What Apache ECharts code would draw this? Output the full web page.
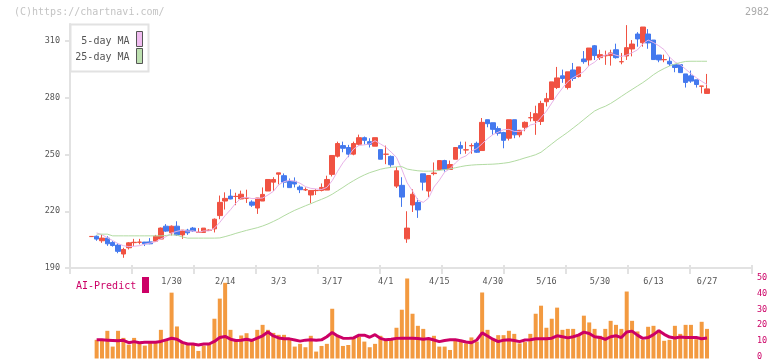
<!DOCTYPE html>
<html><head><meta charset="utf-8">
<script src="https://cdn.jsdelivr.net/npm/echarts@6/dist/echarts.min.js"></script>
<style>html,body{margin:0;padding:0;background:#fff}#c{width:772px;height:361px}</style>
</head><body><div id="c"></div><script>
const dates = ['1/8','1/9','1/10','1/14','1/15','1/16','1/17','1/20','1/21','1/22','1/23','1/24','1/27','1/28','1/29','1/30','1/31',
'2/3','2/4','2/5','2/6','2/7','2/10','2/12','2/13','2/14','2/17','2/18','2/19','2/20','2/21','2/25','2/26','2/27','2/28',
'3/3','3/4','3/5','3/6','3/7','3/10','3/11','3/12','3/13','3/14','3/17','3/18','3/19','3/21','3/24','3/25','3/26','3/27','3/28','3/31',
'4/1','4/2','4/3','4/4','4/7','4/8','4/9','4/10','4/11','4/14','4/15','4/16','4/17','4/18','4/21','4/22','4/23','4/24','4/25','4/28','4/30',
'5/1','5/2','5/7','5/8','5/9','5/12','5/13','5/14','5/15','5/16','5/19','5/20','5/21','5/22','5/23','5/26','5/27','5/28','5/29','5/30',
'6/2','6/3','6/4','6/5','6/6','6/9','6/10','6/11','6/12','6/13','6/16','6/17','6/18','6/19','6/20','6/23','6/24','6/25','6/26','6/27'];
const shownDates = ['1/30','2/14','3/3','3/17','4/1','4/15','4/30','5/16','5/30','6/13','6/27'];
const open = [206.6,206.8,204.4,205.8,203.5,202.1,197.4,200.7,203.4,203.6,203.7,203.8,204.2,205.3,212.1,208.6,212.1,207.5,210.0,211.1,
208.8,208.8,209.9,210.7,217.7,225.4,228.0,227.8,226.5,226.9,224.9,221.7,225.4,230.7,235.4,239.6,238.8,235.8,235.8,232.8,
231.3,228.6,230.9,231.0,231.2,239.5,249.1,254.7,253.7,250.2,255.4,258.9,256.8,254.4,252.6,250.1,249.0,233.3,233.7,205.4,
223.3,224.7,239.8,230.7,239.9,242.1,246.8,242.1,247.5,254.7,252.4,254.6,255.9,252.1,268.4,266.8,263.7,261.6,258.6,268.4,
260.4,264.4,269.4,267.9,267.5,277.9,279.1,285.4,291.6,285.4,294.7,291.2,300.5,300.0,307.5,301.2,302.2,302.3,305.4,299.0,
302.1,305.8,313.7,309.1,313.7,310.5,302.6,300.1,299.3,297.5,297.5,292.6,291.6,289.5,286.1,282.3];
const close = [206.7,205.3,205.8,202.8,201.9,198.8,199.8,203.3,203.6,203.7,202.8,202.8,206.8,211.1,209.5,212.1,207.5,210.0,208.6,209.6,
208.9,211.1,210.0,215.8,224.7,226.8,226.5,227.9,229.0,227.0,223.2,227.0,228.9,236.8,236.8,240.3,235.4,232.5,234.4,231.4,
231.4,231.0,231.0,232.6,236.8,249.5,255.8,253.3,250.2,255.8,258.9,257.5,255.4,258.9,247.5,250.2,244.6,241.4,227.5,211.1,
229.0,220.7,235.4,238.9,240.2,246.8,242.1,244.7,253.7,253.3,252.5,254.7,251.2,267.0,266.3,263.3,261.2,257.5,268.4,260.4,
262.8,267.0,269.5,271.6,277.0,279.5,288.4,290.5,290.2,293.7,290.2,296.3,299.1,306.3,302.3,302.8,302.3,303.7,301.2,299.1,
306.5,308.4,311.1,317.4,309.0,300.2,300.0,300.2,297.9,296.0,293.3,288.1,288.8,287.0,286.2,284.7];
const low = [206.5,204.4,203.3,201.7,201.3,197.8,195.4,199.8,201.6,202.5,201.6,202.6,204.0,205.3,209.1,207.2,207.0,205.4,207.5,209.1,
208.8,208.8,209.6,208.8,215.8,220.9,226.3,223.2,226.3,224.4,222.3,218.6,225.4,230.7,230.7,234.2,232.5,232.5,232.6,229.6,
230.7,224.2,228.6,230.5,231.2,238.4,248.4,251.2,248.6,249.6,254.7,255.3,253.7,254.4,247.5,244.9,243.5,232.3,222.3,203.3,
219.6,216.5,231.0,227.5,239.0,241.6,241.0,242.1,247.5,250.2,250.4,250.4,250.8,252.1,264.4,260.4,260.0,253.3,257.4,258.6,
259.1,262.3,267.5,260.4,265.6,275.4,279.1,284.6,287.9,284.4,288.9,290.7,298.0,297.0,300.0,300.0,297.4,297.0,300.7,297.7,
300.0,301.9,307.0,307.0,305.9,300.2,298.8,298.8,296.8,293.5,293.2,285.4,287.9,285.4,282.3,282.3];
const high = [206.8,207.2,208.0,206.8,204.2,203.2,200.7,203.7,205.4,205.4,203.8,205.8,207.5,211.4,213.2,212.5,214.7,210.0,210.7,211.7,
211.1,211.1,210.4,216.2,228.3,230.0,231.6,229.8,230.9,231.4,225.8,227.0,232.6,236.8,238.0,240.3,240.0,237.3,237.9,233.7,
232.6,231.0,231.7,234.7,238.8,249.5,256.8,256.8,255.1,256.8,260.5,259.5,258.6,258.9,252.6,254.7,249.5,243.3,238.0,220.0,
231.6,226.8,239.8,238.9,245.8,246.8,247.2,246.8,253.7,256.8,256.8,255.9,256.8,269.3,268.4,266.8,264.9,262.0,268.4,268.4,
262.8,267.5,272.5,275.8,278.4,282.6,288.4,296.3,294.9,293.7,298.4,296.3,304.7,306.3,307.9,305.4,304.9,305.4,308.6,303.7,
318.4,310.5,314.7,317.4,316.3,310.5,302.6,302.8,301.6,297.5,297.5,292.6,294.4,289.5,286.2,292.6];
const ma5 = [null,208.6,207.6,206.0,204.5,202.9,201.8,201.3,201.5,201.8,202.6,203.2,203.9,205.4,206.6,208.5,209.4,210.0,209.5,209.6,
208.9,209.6,209.6,211.1,214.1,217.7,220.8,224.3,227.0,227.4,226.7,226.8,227.0,228.6,230.5,234.0,235.6,236.4,235.9,234.8,
233.0,232.1,231.8,231.5,232.6,236.2,241.1,245.6,249.1,252.9,254.8,255.1,255.6,257.3,255.6,253.9,251.3,248.5,242.2,235.0,
230.7,225.9,224.7,227.0,232.8,236.4,240.7,242.5,245.5,248.1,249.3,251.8,253.1,255.7,258.3,260.5,261.8,263.1,263.3,262.2,
262.1,263.2,265.6,266.3,269.6,272.9,277.2,281.4,285.1,288.5,290.6,292.2,293.9,297.1,298.8,301.4,302.6,303.5,302.5,301.8,
302.6,303.8,305.3,308.5,310.5,309.2,307.5,305.4,301.5,298.9,297.5,295.1,292.8,290.6,288.7,287.0];
const ma25 = [null,207.9,207.9,207.9,207.0,207.0,207.0,207.0,207.0,207.0,207.0,207.0,207.0,207.0,207.2,207.5,207.4,206.4,205.8,205.8,
205.8,205.8,205.8,205.8,205.9,206.6,207.4,208.3,209.1,209.9,210.6,211.3,212.2,213.3,214.6,216.0,217.6,219.1,220.5,221.7,
222.9,224.0,225.2,226.3,227.5,229.0,230.8,232.6,234.5,236.2,237.8,239.2,240.4,241.3,242.2,242.8,243.2,243.5,243.6,242.3,
241.8,241.4,241.2,241.2,241.3,241.6,242.0,242.4,243.0,243.6,244.1,244.4,244.6,244.7,244.8,244.9,245.1,245.4,245.8,246.5,
247.3,248.2,249.0,249.9,251.2,253.4,255.6,257.8,259.8,261.8,264.0,266.2,268.5,270.8,273.0,274.4,275.5,277.0,278.8,280.7,
282.6,284.4,286.2,288.0,290.0,292.2,294.0,295.5,296.8,297.8,298.6,299.2,299.3,299.3,299.3,299.3];
const volume = [null,11.6,11.6,17.2,7.4,17.2,12.8,8.6,12.8,10.1,8.0,10.1,10.1,17.8,11.6,40.9,19.9,10.1,8.6,8.6,
4.7,8.0,8.6,24.7,37.2,47.0,17.8,11.6,14.3,15.7,11.6,17.8,20.9,17.8,15.9,14.7,14.7,12.6,7.4,9.1,
7.0,14.1,4.3,7.8,9.1,30.9,14.1,7.8,8.4,12.8,13.5,10.5,7.0,9.1,14.1,11.6,11.6,19.1,30.3,49.7,
27.8,20.3,18.4,11.6,14.1,7.4,7.4,5.3,11.6,10.5,9.4,13.1,10.5,41.0,17.8,11.6,14.5,14.5,17.2,15.3,
9.4,10.2,15.3,27.8,32.8,19.1,24.7,31.6,17.8,18.4,18.4,15.3,26.6,22.4,18.4,14.1,18.4,23.4,20.9,18.4,
41.6,23.4,16.8,11.6,19.7,20.3,17.8,11.0,11.6,20.3,15.3,20.9,20.9,12.0,22.8,18.4];
const aiPredict = [null,11.6,11.6,11.4,11.2,11.0,11.3,9.8,10.5,9.8,10.1,10.1,10.1,10.6,11.6,12.6,12.0,10.0,9.0,9.0,
8.4,9.0,9.0,10.6,13.0,13.7,12.0,11.2,11.3,12.0,11.2,12.6,14.1,16.5,14.0,12.8,12.3,12.2,11.5,10.8,
11.4,11.6,11.4,11.6,13.5,16.2,14.0,12.6,12.5,12.8,14.5,14.5,13.2,14.8,12.5,11.6,12.0,12.5,12.6,12.6,
12.6,12.4,12.0,12.4,11.5,10.5,11.2,11.6,11.6,11.0,10.2,9.8,11.5,15.9,14.0,12.0,10.5,11.4,11.6,11.2,
10.5,11.5,11.6,12.3,12.3,12.2,12.6,14.1,13.5,12.8,13.5,14.5,16.4,15.5,13.5,13.1,11.9,13.5,14.1,13.0,
16.5,17.0,14.5,12.5,13.0,14.8,17.3,15.0,13.3,12.7,13.3,13.1,13.1,13.0,12.3,12.7];
const priceTicks = [190,220,250,280,310];
const ticker = '2982';

const FONT = '"DejaVu Sans Mono","Liberation Mono",monospace';
const AX = '#e2e2e2';
const RED = '#f05242', BLUE = '#4479ee';
const PL = 88.6, PR = 62.3;
const candles = dates.map((d, i) => [open[i], close[i], low[i], high[i]]);

const chart = echarts.init(document.getElementById('c'), null, {renderer: 'canvas'});
chart.setOption({
  animation: false,
  backgroundColor: '#fff',
  grid: [
    {left: 70, right: 20, top: 24, bottom: 93},
    {left: PL, right: PR, top: 24, bottom: 93},
    {left: PL, right: PR, top: 278, bottom: 2.5},
    {left: 70, right: 20, top: 278, bottom: 2.5}
  ],
  xAxis: [
    {type: 'value', gridIndex: 0, min: 0, max: 11, interval: 1, position: 'bottom',
     axisLine: {show: true, lineStyle: {color: AX, width: 2}},
     axisTick: {show: true, length: 6, lineStyle: {color: AX, width: 2}},
     axisLabel: {show: false}, splitLine: {show: false}},
    {type: 'value', gridIndex: 0, min: 0, max: 11, interval: 1, position: 'bottom',
     axisLine: {show: false},
     axisTick: {show: true, inside: true, length: 3, lineStyle: {color: AX, width: 2}},
     axisLabel: {show: false}, splitLine: {show: false}},
    {type: 'category', gridIndex: 1, data: dates, boundaryGap: true, position: 'bottom',
     axisLine: {show: false}, axisTick: {show: false}, splitLine: {show: false},
     axisLabel: {interval: (i, v) => shownDates.indexOf(v) >= 0, margin: 9, fontSize: 8.5, color: '#555', fontFamily: FONT}},
    {type: 'category', gridIndex: 2, data: dates, boundaryGap: true, show: false},
    {type: 'value', gridIndex: 3, min: 0, max: 1, show: false}
  ],
  yAxis: [
    {type: 'value', gridIndex: 0, min: 190, max: 319,
     axisLine: {show: true, lineStyle: {color: AX, width: 2}},
     axisTick: {show: true, length: 5, customValues: priceTicks, lineStyle: {color: AX, width: 2}},
     axisLabel: {customValues: priceTicks, margin: 10, fontSize: 8.5, color: '#555', fontFamily: FONT},
     splitLine: {show: false}},
    {type: 'value', gridIndex: 0, min: 190, max: 319,
     axisLine: {show: false},
     axisTick: {show: true, inside: true, length: 3, customValues: priceTicks, lineStyle: {color: AX, width: 2}},
     axisLabel: {show: false}, splitLine: {show: false}},
    {type: 'value', gridIndex: 1, min: 190, max: 319, show: false},
    {type: 'value', gridIndex: 2, min: 0, max: 50, show: false},
    {type: 'value', gridIndex: 3, min: 0, max: 50, interval: 10, position: 'right',
     axisLine: {show: false}, axisTick: {show: false}, splitLine: {show: false},
     axisLabel: {color: '#cc0066', fontSize: 8.5, margin: 5, fontFamily: FONT}}
  ],
  series: [
    {type: 'candlestick', xAxisIndex: 2, yAxisIndex: 2, data: candles, barWidth: 5,
     itemStyle: {color: RED, color0: BLUE, borderColor: RED, borderColor0: BLUE, borderColorDoji: RED, borderWidth: 1}},
    {type: 'line', name: '5-day MA', xAxisIndex: 2, yAxisIndex: 2, data: ma5, showSymbol: false, z: 3,
     lineStyle: {color: '#e8b2e8', width: 1}},
    {type: 'line', name: '25-day MA', xAxisIndex: 2, yAxisIndex: 2, data: ma25, showSymbol: false, z: 3,
     lineStyle: {color: '#b2dba2', width: 1}},
    {type: 'bar', xAxisIndex: 3, yAxisIndex: 3, data: volume, barWidth: 4, itemStyle: {color: '#f39a40'}},
    {type: 'line', xAxisIndex: 3, yAxisIndex: 3, data: aiPredict, showSymbol: false, z: 4,
     lineStyle: {color: '#cc0066', width: 3}}
  ],
  graphic: [
    {type: 'text', x: 14, y: 12, style: {text: '(C)https://chartnavi.com/', font: '10px ' + FONT, fill: '#c4c4c4', verticalAlign: 'middle'}},
    {type: 'text', x: 769, y: 12, style: {text: ticker, font: '10px ' + FONT, fill: '#aaaaaa', align: 'right', verticalAlign: 'middle'}},
    {type: 'rect', z: 10, shape: {x: 70.5, y: 24.5, width: 78, height: 47}, style: {fill: '#fff', stroke: AX, lineWidth: 2}},
    {type: 'text', z: 11, x: 129.5, y: 41, style: {text: '5-day MA', font: '10px ' + FONT, fill: '#555', align: 'right', verticalAlign: 'middle'}},
    {type: 'text', z: 11, x: 129.5, y: 57, style: {text: '25-day MA', font: '10px ' + FONT, fill: '#555', align: 'right', verticalAlign: 'middle'}},
    {type: 'rect', z: 11, shape: {x: 136.5, y: 31.5, width: 6, height: 15}, style: {fill: '#f0bcf0', stroke: '#555', lineWidth: 1}},
    {type: 'rect', z: 11, shape: {x: 136.5, y: 48.5, width: 6, height: 15}, style: {fill: '#bde0b0', stroke: '#555', lineWidth: 1}},
    {type: 'text', x: 76, y: 286, style: {text: 'AI-Predict', font: '10px ' + FONT, fill: '#cc0066', verticalAlign: 'middle'}},
    {type: 'rect', shape: {x: 142, y: 277, width: 7, height: 16}, style: {fill: '#cc0066'}}
  ]
});
</script></body></html>
